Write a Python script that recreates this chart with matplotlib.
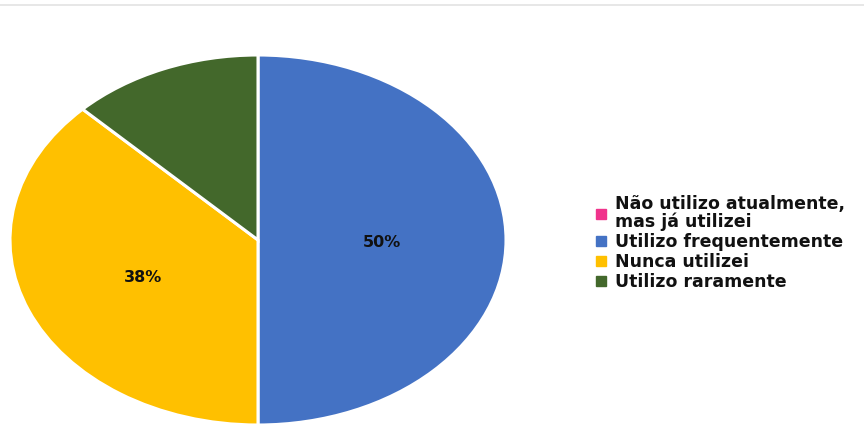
import matplotlib
matplotlib.use("Agg")
import matplotlib.pyplot as plt
from matplotlib.lines import Line2D
import numpy as np

categories = ["Não utilizo atualmente,\nmas já utilizei", "Utilizo frequentemente",
              "Nunca utilizei", "Utilizo raramente"]
values = [0, 4, 3, 1]
colors = ["#F0338C", "#4472C4", "#FFC000", "#43682B"]
show_label = [False, True, True, False]

W, H = 864, 426
fig = plt.figure(figsize=(W / 100, H / 100), dpi=100)
fig.patch.set_facecolor("white")

# thin gray line at top
fig.add_artist(Line2D([0, 1], [1 - 5 / H, 1 - 5 / H], color="#E3E3E3", lw=1.2,
                      transform=fig.transFigure))

ax = fig.add_axes([10 / W, 1 / H, 496 / W, 370 / H])
nz = [i for i, v in enumerate(values) if v > 0]
total = sum(values)
wedges, _ = ax.pie([values[i] for i in nz], colors=[colors[i] for i in nz],
                   startangle=90, counterclock=False, radius=1,
                   wedgeprops=dict(edgecolor="white", linewidth=2.2))
ax.set_aspect("auto")
ax.set_xlim(-1, 1)
ax.set_ylim(-1, 1)
ax.axis("off")

for w, i in zip(wedges, nz):
    if not show_label[i]:
        continue
    ang = np.deg2rad((w.theta1 + w.theta2) / 2)
    pct = values[i] / total * 100
    ax.text(0.5 * np.cos(ang), 0.5 * np.sin(ang) - 0.013, f"{pct:.0f}%",
            ha="center", va="center", fontsize=11.5, fontweight="bold",
            family="DejaVu Sans", color="#111111")

handles = [Line2D([], [], marker="s", linestyle="none", markersize=7,
                  markerfacecolor=c, markeredgecolor=c) for c in colors]
leg = fig.legend(handles, categories, loc="center left",
                 bbox_to_anchor=(587 / W, 1 - 243 / H), frameon=False,
                 prop=dict(family="DejaVu Sans", weight="bold", size=12.5),
                 handlelength=0.6, handletextpad=0.5, labelspacing=0.12,
                 borderpad=0)
for t in leg.get_texts():
    t.set_color("#111111")
    t.set_linespacing(0.95)

fig.savefig("out.png", dpi=100, facecolor="white")
